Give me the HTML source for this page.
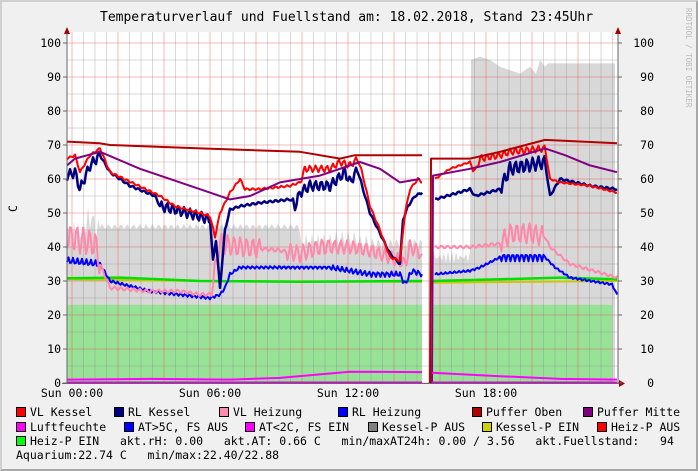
<!DOCTYPE html>
<html><head><meta charset="utf-8">
<style>
html,body{margin:0;padding:0;background:#f0f0f0;}
#c{position:relative;width:698px;height:471px;overflow:hidden;background:#f0f0f0;box-sizing:border-box;border-right:2px solid #a8a8a8;border-bottom:2px solid #a8a8a8;border-top:2px solid #d0d0d0;border-left:2px solid #d0d0d0;}
.t{position:absolute;font-family:"DejaVu Sans Mono","Liberation Mono",monospace;font-size:11.5px;color:#000;white-space:pre;line-height:13px;}
.b{position:absolute;width:8px;height:8px;border:1px solid #000;}
</style></head><body>
<div id="c">
<svg id="s" width="698" height="471" style="position:absolute;left:-2px;top:-2px"></svg>
<div class="t" style="left:98px;top:9px;font-size:13px">Temperaturverlauf und Fuellstand am: 18.02.2018, Stand 23:45Uhr</div>
<div class="t" style="left:8px;top:200px;transform:rotate(-90deg);">C</div>
<div class="t" style="left:640px;top:80px;font-size:7.5px;color:#bbb;transform:rotate(90deg);transform-origin:0 0;left:693px;top:6px">RRDTOOL / TOBI OETIKER</div>

<div class="b" style="left:14px;top:405px;background:#f00"></div><div class="t" style="left:28px;top:404px">VL Kessel</div>
<div class="b" style="left:112px;top:405px;background:#000080"></div><div class="t" style="left:126px;top:404px">RL Kessel</div>
<div class="b" style="left:217px;top:405px;background:#ff8cb0"></div><div class="t" style="left:231px;top:404px">VL Heizung</div>
<div class="b" style="left:336px;top:405px;background:#00f"></div><div class="t" style="left:350px;top:404px">RL Heizung</div>
<div class="b" style="left:470px;top:405px;background:#b00000"></div><div class="t" style="left:484px;top:404px">Puffer Oben</div>
<div class="b" style="left:581px;top:405px;background:#800080"></div><div class="t" style="left:595px;top:404px">Puffer Mitte</div>

<div class="b" style="left:14px;top:420px;background:#f0f"></div><div class="t" style="left:28px;top:419px">Luftfeuchte</div>
<div class="b" style="left:122px;top:420px;background:#00f"></div><div class="t" style="left:136px;top:419px">AT&gt;5C, FS AUS</div>
<div class="b" style="left:243px;top:420px;background:#f0f"></div><div class="t" style="left:257px;top:419px">AT&lt;2C, FS EIN</div>
<div class="b" style="left:366px;top:420px;background:#808080"></div><div class="t" style="left:380px;top:419px">Kessel-P AUS</div>
<div class="b" style="left:480px;top:420px;background:#d0d000"></div><div class="t" style="left:494px;top:419px">Kessel-P EIN</div>
<div class="b" style="left:595px;top:420px;background:#f00"></div><div class="t" style="left:609px;top:419px">Heiz-P AUS</div>

<div class="b" style="left:14px;top:434px;background:#0f0"></div><div class="t" style="left:28px;top:433px">Heiz-P EIN   akt.rH: 0.00   akt.AT: 0.66 C   min/maxAT24h: 0.00 / 3.56   akt.Fuellstand:   94</div>
<div class="t" style="left:14px;top:447px">Aquarium:22.74 C   min/max:22.40/22.88</div>
</div>
<script>
var s=document.getElementById('s'),NS='http://www.w3.org/2000/svg',h='';
function Y(v){return 383-3.4*v;}
function pts(a){var r=[];for(var i=0;i<a.length;i+=2)r.push(a[i]+','+Y(a[i+1]).toFixed(1));return r.join(' ');}
h+='<rect x="67" y="32" width="551" height="351" fill="#fff"/>';
// grey area
var g=[67,0,67,44],x;
for(x=68;x<=422;x+=2){var v=x<100?44+4*Math.sin(x*1.3)+(x>85&&x<95?4:0):(x<300?46+Math.sin(x)*0.8:41+3*Math.sin(x*2.1)*(x>370?0.6:1)+(x>330&&x<360?1:0));g.push(x,v);}
g.push(422,0);
h+='<polygon points="'+pts(g)+'" fill="#d8d8d8"/>';
var g2=[432,0,432,40];for(x=434;x<=470;x+=2)g2.push(x,37+2*Math.sin(x*1.7));g2.push(470,40,471,95,480,96,490,95,500,93,520,91,530,93,536,91,540,95,545,93,548,94,615,94,615,0);
h+='<polygon points="'+pts(g2)+'" fill="#d8d8d8"/>';
h+='<rect x="67" y="'+Y(23)+'" width="355" height="'+(3.4*23)+'" fill="#98e298"/>';
h+='<rect x="432" y="'+Y(23)+'" width="180" height="'+(3.4*23)+'" fill="#98e298"/>';
// grid
for(var v=0;v<=100;v+=5){var y=Y(v);h+='<line x1="67" x2="618" y1="'+y+'" y2="'+y+'" stroke="'+(v%10?'rgba(128,128,128,0.3)':'rgba(230,80,80,0.4)')+'" stroke-width="1"/>';}
for(var i=-1;i<48;i++){x=72+11.5*i;if(x<67||x>618)continue;h+='<line x1="'+x+'" x2="'+x+'" y1="32" y2="383" stroke="'+(i%4?'rgba(128,128,128,0.3)':'rgba(230,80,80,0.4)')+'"/>';}
function L(a,c,w){h+='<polyline points="'+pts(a)+'" fill="none" stroke="'+c+'" stroke-width="'+(w||2)+'" stroke-linejoin="round"/>';}
function wig(a,amp,per){var r=[];for(var i=0;i<a.length-2;i+=2){var x0=a[i],v0=a[i+1],x1=a[i+2],v1=a[i+3];for(var x=x0;x<x1;x+=1.5){var t=(x-x0)/(x1-x0);r.push(x,v0+(v1-v0)*t+amp(x)*Math.sin(x*per));}}r.push(a[a.length-2],a[a.length-1]);return r;}
// green / yellow
L([67,30.5,200,30,400,29.8,422,29.8],'#c8c800',2);L([432,29.5,617,30],'#c8c800',2);
L([67,30.8,120,31,200,30,300,29.8,422,30],'#00e000',2.5);L([432,30,500,30.5,560,31,617,30.5],'#00e000',2.5);
// blue RL Heizung
L(wig([67,36,100,35,110,30,150,27,210,25,220,26,225,28,230,32,240,34,280,34,330,34,350,33,370,32,390,32,400,32,405,29,412,33,422,32],function(x){return x<100?1:(x>330?0.8:0.4)},1.4),'#0000ff');
L(wig([435,32,470,33,480,34,500,37,545,37,555,34,570,31,612,29,617,26],function(x){return x>500&&x<545?1.2:0.3},1.4),'#0000ff');
// pink VL Heizung
L(wig([67,43,80,42,95,41,100,35,110,28,150,27,180,27,200,26,210,26,215,33,220,41,240,40,280,39,300,38,320,40,350,40,370,39,390,37,400,36,405,35,410,40,422,38],function(x){return x<100?4:(x>210&&x<260?3:(x>285&&x<330?2.5:(x>330?2:0.5)))},1.0),'#ff88aa');
L(wig([435,40,470,40,500,41,510,44,530,44,545,43,550,40,570,35,617,31],function(x){return x>500&&x<545?3:0.4},1.0),'#ff88aa');
// navy RL Kessel
L(wig([67,61,75,62,80,57,90,64,100,67,110,62,130,58,155,55,160,52,175,51,200,49,210,48,213,36,216,42,220,28,225,45,230,51,240,52,260,53,290,54,295,52,300,56,310,58,330,58,345,62,350,59,358,63,362,58,370,50,380,44,390,38,400,35,403,48,408,52,415,55,422,56],function(x){return x<100||(x>160&&x<210)||(x>290&&x<360)?1.5:0.3},1.1),'#000080',2.5);
L(wig([435,54,470,57,475,55,500,57,510,63,545,65,550,55,560,60,590,58,617,57],function(x){return x>500&&x<545?2:0.3},1.1),'#000080',2.5);
// red VL Kessel
L(wig([67,66,75,67,80,62,90,67,100,69,110,62,160,55,175,52,200,50,210,49,215,43,220,50,230,56,240,60,245,57,260,57,290,58,300,59,305,63,330,63,340,65,350,64,358,66,362,62,370,52,380,45,390,37,400,36,405,50,410,57,418,60,422,59],function(x){return x>300&&x<360?1:0.3},1.1),'#ff0000');
L(wig([435,60,450,63,470,65,475,62,480,66,500,67,510,68,545,69,550,60,560,59,590,58,617,56],function(x){return x>470&&x<545?1:0.2},1.1),'#ff0000');
// purple / dark red
L([67,64,75,66,100,68,140,63,200,57,230,54,250,55,280,59,320,61,360,65,380,63,400,59,420,60],'#800080');
L([67,71,100,70.5,110,70,200,69,300,68,340,66,355,67,422,67],'#b00000');
L([430,0,431,66,470,66,500,68,545,71.5,617,70.5],'#b00000');
L([432,0,433,61,470,63,500,65,545,69,565,67,590,64,617,62],'#800080');
// magenta
L([67,1,150,1.2,230,1,280,1.5,350,3.3,422,3.2],'#ff00ff');L([432,3,500,2,560,1.2,617,1],'#ff00ff');
L([67,0.2,422,0.2],'#e000e0',1.5);L([432,0.2,617,0.2],'#e000e0',1.5);
// axes
h+='<line x1="67" x2="67" y1="30" y2="384" stroke="#666"/><line x1="618" x2="618" y1="30" y2="384" stroke="#666"/><line x1="62" x2="624" y1="383.5" y2="383.5" stroke="#666"/>';
h+='<polygon points="64,34 70,34 67,27" fill="#a00000"/><polygon points="615,34 621,34 618,27" fill="#a00000"/><polygon points="619,380 619,387 625,383.5" fill="#a00000"/>';
for(v=0;v<=100;v+=10){y=Y(v);h+='<line x1="63" x2="67" y1="'+y+'" y2="'+y+'" stroke="#666"/><line x1="618" x2="622" y1="'+y+'" y2="'+y+'" stroke="#666"/>';
h+='<text x="61" y="'+(y+4)+'" text-anchor="end" font-family="DejaVu Sans Mono,monospace" font-size="11.5">'+v+'</text>';
h+='<text x="654" y="'+(y+4)+'" text-anchor="end" font-family="DejaVu Sans Mono,monospace" font-size="11.5">'+v+'</text>';}
var lab=['Sun 00:00','Sun 06:00','Sun 12:00','Sun 18:00'];
for(i=0;i<4;i++)h+='<text x="'+(72+138*i)+'" y="397" text-anchor="middle" font-family="DejaVu Sans Mono,monospace" font-size="11.5">'+lab[i]+'</text>';
s.innerHTML=h;
</script>
</body></html>
